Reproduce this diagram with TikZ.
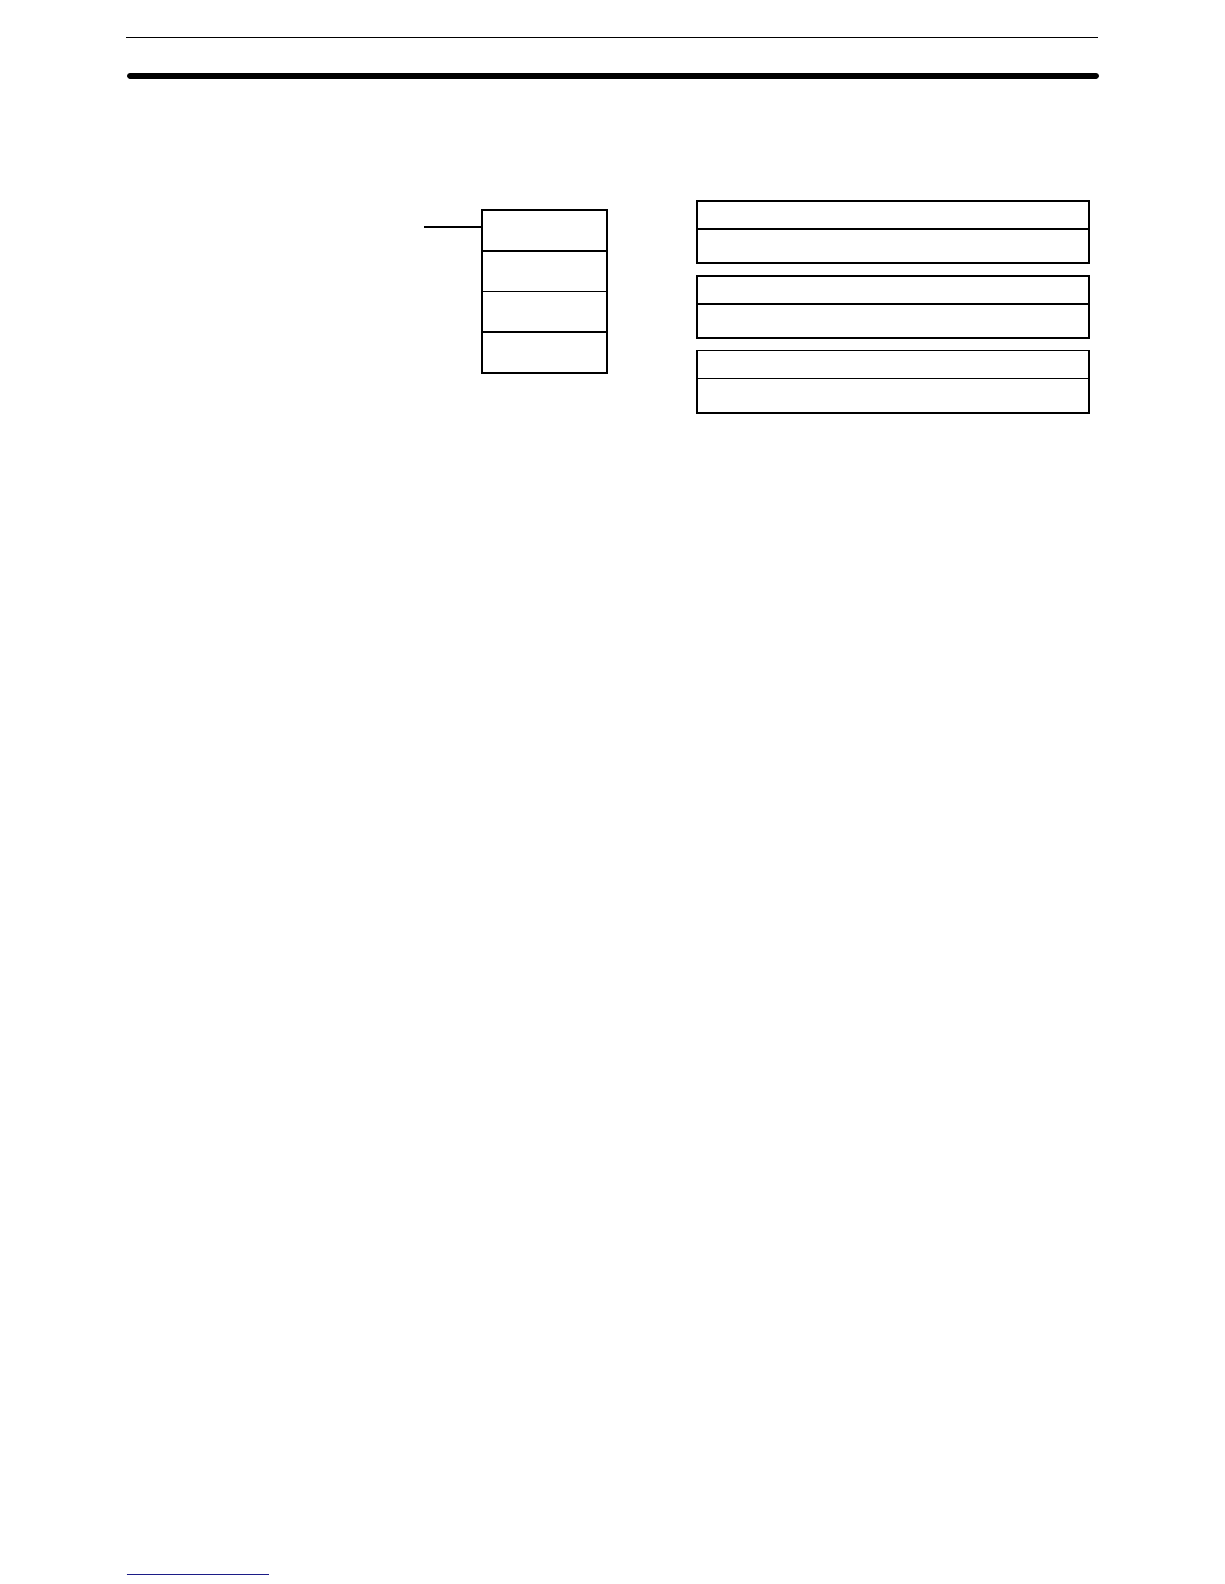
\documentclass[tikz,border=0pt]{standalone}
\usetikzlibrary{positioning}
\definecolor{linkblue}{RGB}{28,28,135}

\begin{document}
\begin{tikzpicture}[
            x = 1pt, y = -1pt, % page units
            line width = 1.6pt, % line style
            node distance = 0pt, % stacked boxes touch
            cell/.style = {draw, rectangle, minimum width=125pt, minimum height=40.7pt, inner sep=0pt, outer sep=0pt},
            head/.style = {draw, rectangle, minimum width=392.3pt, minimum height=28pt, inner sep=0pt, outer sep=0pt},
            body/.style = {draw, rectangle, minimum width=392.3pt, minimum height=34.2pt, inner sep=0pt, outer sep=0pt}
        ]
	\useasboundingbox (0,0) rectangle (1224,1584);

	% page rules
	\draw (126,37.7) -- (1098,37.7);
	\draw[line width=6pt, line cap=round] (130,75.7) -- (1096,75.7);
	\draw[linkblue, line width=1.5pt] (126.7,1574.7) -- (269,1574.7);

	% stacked cells
	\node[cell] (c1) at (544.2,230.35) {};
	\node[cell] (c2) [below=of c1] {};
	\node[cell] (c3) [below=of c2] {};
	\node[cell] (c4) [below=of c3] {};

	\coordinate (lead) at (424,226.7);
	\draw (lead) -- (lead -| c1.west);

	% right boxes
	\node[head] (h1) at (892.9,215) {};
	\node[body] (b1) [below=of h1] {};
	\node[head] (h2) [below=12.6pt of b1] {};
	\node[body] (b2) [below=of h2] {};
	\node[head] (h3) [below=12.6pt of b2] {};
	\node[body] (b3) [below=of h3] {};

\end{tikzpicture}
\end{document}
